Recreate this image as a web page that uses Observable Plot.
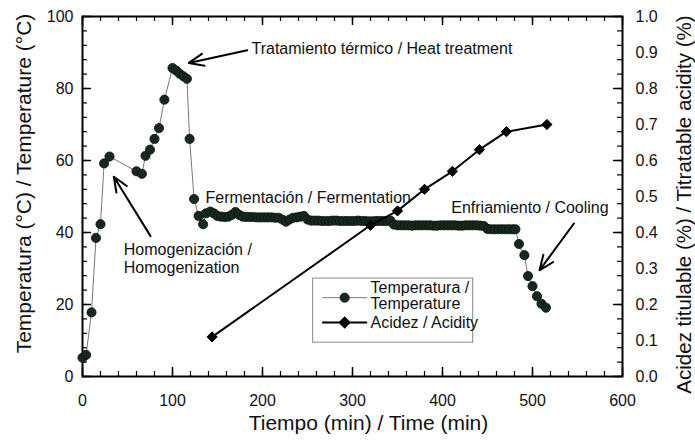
<!DOCTYPE html>
<html><head><meta charset="utf-8">
<script src="https://cdn.jsdelivr.net/npm/d3@7"></script>
<script src="https://cdn.jsdelivr.net/npm/@observablehq/plot@0.6"></script>
<style>body{margin:0;background:#fff;}</style>
</head><body><div id="chart"></div>
<script>
// ---- data ----
const tempTime = [0,4,10,15,20,24,30,60,66,70,75,80,85,91,100,104,108,112,116,119,124,129,134,137,142,146,
150,154,158,162,166,170,174,178,182,186,190,194,198,202,206,210,214,218,222,226,230,234,238,242,246,
250,254,258,262,266,270,274,278,282,286,290,294,298,302,306,310,314,318,322,326,330,334,338,342,
346,350,354,358,362,366,370,374,378,382,386,390,394,398,402,406,410,414,418,422,426,430,434,438,442,446,
450,454,458,462,466,470,474,478,481,
485,491,495,500,505,510,515];
const tempValue = [5.2,6.0,17.8,38.5,42.3,59.2,61.1,57.0,56.3,61.3,63.0,66.0,69.0,76.9,85.7,85.0,84.1,83.4,82.7,66.0,49.3,44.6,42.3,45.3,45.8,45.3,
44.6,44.4,44.3,44.4,44.9,45.7,44.9,44.4,44.3,44.3,44.3,44.2,44.2,44.2,44.2,44.2,44.1,44.1,43.6,43.0,43.6,44.1,44.2,44.4,44.6,
43.6,43.3,43.3,43.3,43.2,43.2,43.2,43.3,43.3,43.2,43.2,43.2,43.2,43.2,43.3,43.2,43.2,43.1,43.1,43.2,43.2,43.2,43.2,43.3,
42.2,42.0,42.0,42.0,42.0,41.9,42.0,42.0,42.0,42.0,42.0,41.9,41.9,42.0,42.0,42.0,42.0,42.0,41.9,41.9,42.0,42.0,42.0,42.0,41.9,41.8,
41.0,40.9,40.9,40.9,40.9,40.9,40.9,40.9,40.9,
36.8,33.7,27.9,25.1,22.3,20.2,19.1];
const acidTime = [144,320,350,380,411,441,471,516];
const acidValue = [0.11,0.42,0.46,0.52,0.57,0.63,0.68,0.70];

const xTickLabels = [0,100,200,300,400,500,600];
const yTickLabels = [0,20,40,60,80,100];
const rightTickLabels = [0.0,0.1,0.2,0.3,0.4,0.5,0.6,0.7,0.8,0.9,1.0];

const xTitle = "Tiempo (min) / Time (min)";
const yTitle = "Temperatura (°C) / Temperature (°C)";
const y2Title = "Acidez titulable (%) / Titratable acidity (%)";
const legendLabels = ["Temperatura /", "Temperature", "Acidez / Acidity"];

const noteText = ["Tratamiento térmico / Heat treatment","Fermentación / Fermentation","Homogenización /\nHomogenization","Enfriamiento / Cooling"];
const noteX = [187.8,136.7,45.9,409.7];
const noteY = [91.1,49.9,32.9,47.1];
const arrowFrom = [[183,90.6],[75.6,39],[546,42.5]];
const arrowTo = [[118.1,87.1],[34.8,55.5],[507.8,29.5]];

// ---- build ----
const temp = tempTime.map((t,i)=>({t, v: tempValue[i]}));
const acid = acidTime.map((t,i)=>({t, v: acidValue[i]*100}));
const notes = noteText.map((text,i)=>({text, x: noteX[i], y: noteY[i]}));
const arrows = arrowFrom.map((f,i)=>({x1:f[0],y1:f[1],x2:arrowTo[i][0],y2:arrowTo[i][1]}));

const W = 695, H = 440, mL = 82, mR = 73, mT = 16, mB = 64;
const pw = W - mL - mR, ph = H - mT - mB;
const yMinor = d3.range(0,101,4), xMinor = d3.range(0,601,20);

const legendBox = [{x1:256.3,x2:434.1,y1:9.4,y2:27.2}];
const legendLines = [{x1:266.3,x2:316.3,y:21.9},{x1:266.3,x2:316.3,y:15.0}];
const legendTexts = [{x:320,y:24.7,text:legendLabels[0]},{x:320,y:20.2,text:legendLabels[1]},{x:320,y:15.0,text:legendLabels[2]}];

const chart = Plot.plot({
  width: W, height: H,
  marginLeft: mL, marginRight: mR, marginTop: mT, marginBottom: mB,
  x: {domain:[0,600]},
  y: {domain:[0,100]},
  style: {fontFamily: "'Liberation Sans', Arial, sans-serif", fontSize: "16px", color: "#111", background: "white"},
  marks: [
    // inward ticks
    Plot.ruleY(yTickLabels, {insetRight: pw-9, stroke:"black", strokeWidth:1.5}),
    Plot.ruleY(yMinor, {insetRight: pw-5, stroke:"black", strokeWidth:1.2}),
    Plot.ruleY(yTickLabels, {insetLeft: pw-9, stroke:"black", strokeWidth:1.5}),
    Plot.ruleY(yMinor, {insetLeft: pw-5, stroke:"black", strokeWidth:1.2}),
    Plot.ruleX(xTickLabels, {insetTop: ph-9, stroke:"black", strokeWidth:1.5}),
    Plot.ruleX(xMinor, {insetTop: ph-5, stroke:"black", strokeWidth:1.2}),
    Plot.ruleX(xTickLabels, {insetBottom: ph-9, stroke:"black", strokeWidth:1.5}),
    Plot.ruleX(xMinor, {insetBottom: ph-5, stroke:"black", strokeWidth:1.2}),
    Plot.frame({stroke:"black", strokeWidth:2}),
    Plot.axisX({ticks: xTickLabels, tickSize: 0, tickPadding: 18, label: null}),
    Plot.axisY({ticks: yTickLabels, tickSize: 0, tickPadding: 9, label: null}),
    Plot.axisY({anchor:"right", ticks: rightTickLabels.map(v=>v*100), tickFormat: d=>(d/100).toFixed(1), tickSize: 0, tickPadding: 13, label: null}),
    // titles
    Plot.text([xTitle], {frameAnchor:"bottom", dx:16, dy:47, fontSize:21, textAnchor:"middle", lineAnchor:"middle"}),
    Plot.text([yTitle], {frameAnchor:"left", dx:-58, dy:-13, rotate:-90, fontSize:21, textAnchor:"middle", lineAnchor:"middle"}),
    Plot.text([y2Title], {frameAnchor:"right", dx:62, dy:8, rotate:-90, fontSize:20.5, textAnchor:"middle", lineAnchor:"middle"}),
    // data
    Plot.line(temp, {x:"t", y:"v", stroke:"#777", strokeWidth:1}),
    Plot.dot(temp, {x:"t", y:"v", r:4.6, fill:"#16291d", stroke:"#0b140e", strokeWidth:0.8}),
    Plot.line(acid, {x:"t", y:"v", stroke:"black", strokeWidth:2}),
    Plot.dot(acid, {x:"t", y:"v", r:4.6, symbol:"diamond2", fill:"black", stroke:"black", strokeWidth:1}),
    // annotations
    Plot.arrow(arrows, {x1:"x1", y1:"y1", x2:"x2", y2:"y2", stroke:"black", strokeWidth:2, headLength:12, headAngle:45}),
    Plot.text(notes, {x:"x", y:"y", text:"text", textAnchor:"start", fontSize:16, lineAnchor:"middle", lineHeight:1.15}),
    // legend
    Plot.rect(legendBox, {x1:"x1", x2:"x2", y1:"y1", y2:"y2", fill:"white", stroke:"#888", strokeWidth:1}),
    Plot.link([legendLines[0]], {x1:"x1", x2:"x2", y1:"y", y2:"y", stroke:"#777", strokeWidth:1}),
    Plot.link([legendLines[1]], {x1:"x1", x2:"x2", y1:"y", y2:"y", stroke:"black", strokeWidth:2}),
    Plot.dot([{x:291.3,y:21.9}], {x:"x", y:"y", r:4.6, fill:"#16291d", stroke:"#0b140e", strokeWidth:0.8}),
    Plot.dot([{x:291.3,y:15.0}], {x:"x", y:"y", r:4.6, symbol:"diamond2", fill:"black", stroke:"black"}),
    Plot.text(legendTexts, {x:"x", y:"y", text:"text", textAnchor:"start", fontSize:16, lineAnchor:"middle"})
  ]
});
document.getElementById("chart").appendChild(chart);
</script>
</body></html>
